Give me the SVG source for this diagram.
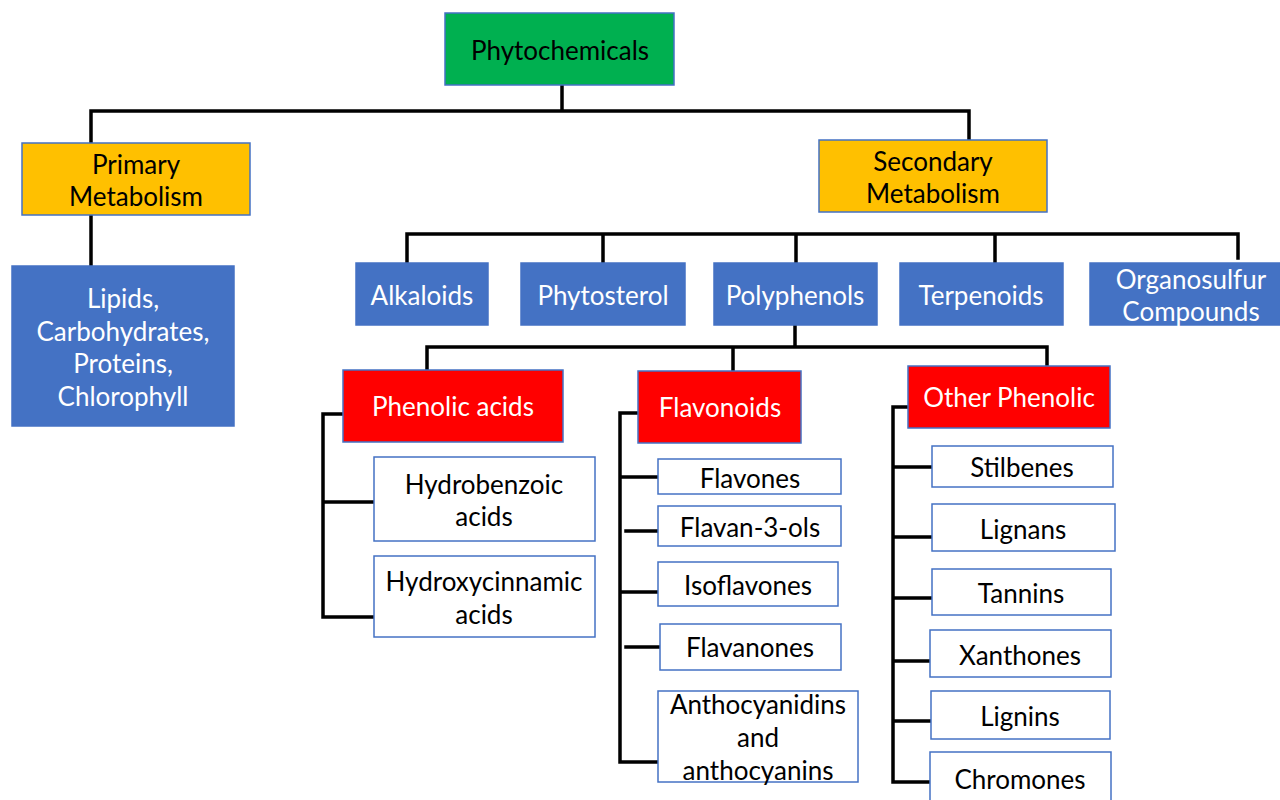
<svg xmlns="http://www.w3.org/2000/svg" width="1280" height="800" viewBox="0 0 1280 800">
<style>
.box{stroke:#4472c4;stroke-width:1.5}
.g{fill:#00b050}.y{fill:#ffc000}.b{fill:#4472c4}.r{fill:#ff0000}.w{fill:#ffffff}
text{font-family:Lato,"Liberation Sans",sans-serif;font-size:26px;text-anchor:middle;dominant-baseline:central}
.dk{fill:#000}.lt{fill:#fff}
.conn{stroke:#000;stroke-width:3.5;fill:none;stroke-linecap:square}
</style>
<rect width="1280" height="800" fill="#fff"/>
<g id="connectors" class="conn">
<path d="M562,86 V111 M91,111 H969 M91,111 V143 M969,111 V140"/>
<path d="M91,215 V266"/>
<path d="M407,234 H1238 M407,234 V263 M603,234 V263 M796,234 V263 M995,234 V263 M1238,234 V258"/>
<path d="M795,325 V347 M427,347 H1047 M427,347 V370 M733,347 V371 M1047,347 V366"/>
<path d="M343,414 H323 V617 H374 M323,502 H374"/>
<path d="M638,413 H620 V762 H658 M620,477 H658 M626,531 H658 M620,592 H658 M626,647 H660"/>
<path d="M910,407 H893 V782 H930 M893,467 H932 M893,537 H932 M893,598 H932 M893,661 H930 M893,721 H931"/>
</g>
<g id="phytochemicals"><rect class="box g" x="445" y="13" width="229" height="72"/><text class="dk" x="560" y="50">Phytochemicals</text></g>
<g id="primary"><rect class="box y" x="22" y="143" width="228" height="72"/><text class="dk" x="136" y="164">Primary</text><text class="dk" x="136" y="196">Metabolism</text></g>
<g id="lipids"><rect class="box b" x="12" y="266" width="222" height="160"/><text class="lt" x="123" y="298">Lipids,</text><text class="lt" x="123" y="331">Carbohydrates,</text><text class="lt" x="123" y="363">Proteins,</text><text class="lt" x="123" y="396">Chlorophyll</text></g>
<g id="secondary"><rect class="box y" x="819" y="140" width="228" height="72"/><text class="dk" x="933" y="161">Secondary</text><text class="dk" x="933" y="193">Metabolism</text></g>
<g id="alkaloids"><rect class="box b" x="356" y="263" width="132" height="62"/><text class="lt" x="422" y="295">Alkaloids</text></g>
<g id="phytosterol"><rect class="box b" x="521" y="263" width="164" height="62"/><text class="lt" x="603" y="295">Phytosterol</text></g>
<g id="polyphenols"><rect class="box b" x="714" y="263" width="163" height="62"/><text class="lt" x="795" y="295">Polyphenols</text></g>
<g id="terpenoids"><rect class="box b" x="900" y="263" width="163" height="62"/><text class="lt" x="981" y="295">Terpenoids</text></g>
<g id="organosulfur"><rect class="box b" x="1090" y="263" width="192" height="62"/><text class="lt" x="1191" y="279">Organosulfur</text><text class="lt" x="1191" y="311">Compounds</text></g>
<g id="phenolic-acids"><rect class="box r" x="343" y="370" width="220" height="72"/><text class="lt" x="453" y="406">Phenolic acids</text></g>
<g id="flavonoids"><rect class="box r" x="638" y="371" width="163" height="72"/><text class="lt" x="720" y="407">Flavonoids</text></g>
<g id="other-phenolic"><rect class="box r" x="908" y="366" width="202" height="62"/><text class="lt" x="1009" y="397">Other Phenolic</text></g>
<g id="hydrobenzoic"><rect class="box w" x="374" y="457" width="221" height="84"/><text class="dk" x="484" y="484">Hydrobenzoic</text><text class="dk" x="484" y="516">acids</text></g>
<g id="hydroxycinnamic"><rect class="box w" x="374" y="556" width="221" height="81"/><text class="dk" x="484" y="581">Hydroxycinnamic</text><text class="dk" x="484" y="614">acids</text></g>
<g id="flavones"><rect class="box w" x="658" y="459" width="183" height="35"/><text class="dk" x="750" y="478">Flavones</text></g>
<g id="flavan-3-ols"><rect class="box w" x="658" y="506" width="183" height="40"/><text class="dk" x="750" y="527">Flavan-3-ols</text></g>
<g id="isoflavones"><rect class="box w" x="658" y="562" width="180" height="44"/><text class="dk" x="748" y="585">Isoflavones</text></g>
<g id="flavanones"><rect class="box w" x="660" y="624" width="181" height="46"/><text class="dk" x="750" y="647">Flavanones</text></g>
<g id="anthocyanidins"><rect class="box w" x="658" y="691" width="200" height="91"/><text class="dk" x="758" y="704">Anthocyanidins</text><text class="dk" x="758" y="737">and</text><text class="dk" x="758" y="770">anthocyanins</text></g>
<g id="stilbenes"><rect class="box w" x="932" y="446" width="181" height="41"/><text class="dk" x="1022" y="467">Stilbenes</text></g>
<g id="lignans"><rect class="box w" x="932" y="504" width="183" height="47"/><text class="dk" x="1023" y="529">Lignans</text></g>
<g id="tannins"><rect class="box w" x="932" y="569" width="179" height="46"/><text class="dk" x="1021" y="593">Tannins</text></g>
<g id="xanthones"><rect class="box w" x="930" y="630" width="181" height="47"/><text class="dk" x="1020" y="655">Xanthones</text></g>
<g id="lignins"><rect class="box w" x="931" y="691" width="179" height="48"/><text class="dk" x="1020" y="716">Lignins</text></g>
<g id="chromones"><rect class="box w" x="930" y="752" width="181" height="52"/><text class="dk" x="1020" y="779">Chromones</text></g>
</svg>
